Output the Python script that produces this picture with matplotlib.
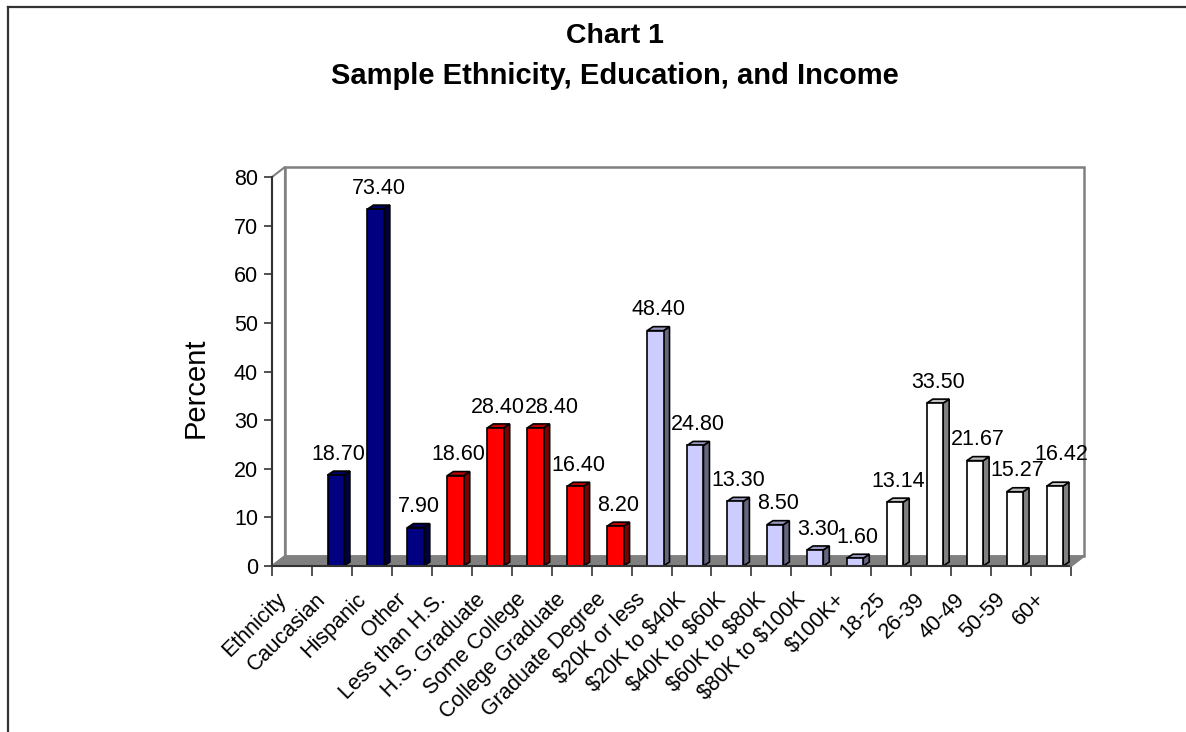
import matplotlib
matplotlib.use("Agg")
import matplotlib.pyplot as plt
from matplotlib.patches import Polygon, Rectangle
from matplotlib.lines import Line2D
from matplotlib.transforms import ScaledTranslation

plt.rcParams['font.family'] = ['Liberation Sans', 'DejaVu Sans']

# data
categories = ['Ethnicity', 'Caucasian', 'Hispanic', 'Other', 'Less than H.S.',
              'H.S. Graduate', 'Some College', 'College Graduate', 'Graduate Degree',
              '\\$20K or less', '\\$20K to \\$40K', '\\$40K to \\$60K', '\\$60K to \\$80K',
              '\\$80K to \\$100K', '\\$100K+', '18-25', '26-39', '40-49', '50-59', '60+']
values = [None, 18.70, 73.40, 7.90, 18.60, 28.40, 28.40, 16.40, 8.20,
          48.40, 24.80, 13.30, 8.50, 3.30, 1.60, 13.14, 33.50, 21.67, 15.27, 16.42]
value_labels = ['', '18.70', '73.40', '7.90', '18.60', '28.40', '28.40', '16.40', '8.20',
                '48.40', '24.80', '13.30', '8.50', '3.30', '1.60',
                '13.14', '33.50', '21.67', '15.27', '16.42']
groups = ['eth'] * 4 + ['edu'] * 5 + ['inc'] * 6 + ['age'] * 5
yticks = [0, 10, 20, 30, 40, 50, 60, 70, 80]

# front / side / top colours per group
colors = {
    'eth': ('#000080', '#000040', '#000060'),
    'edu': ('#FF0000', '#800000', '#C00000'),
    'inc': ('#CCCCFF', '#666680', '#9999C0'),
    'age': ('#FFFFFF', '#808080', '#C0C0C0'),
}
# Excel pushed a couple of value labels aside to avoid collisions (points)
label_nudge = {6: (9.5, 0), 19: (3, 8)}

W, H = 1186, 732
fig = plt.figure(figsize=(W / 100, H / 100), dpi=100)
ax = fig.add_axes([272 / W, 166 / H, 799 / W, 389 / H])
ax.set_xlim(0, 20)
ax.set_ylim(0, 80)
for s in ax.spines.values():
    s.set_visible(False)

# 3d depth of the walls and of the bars, in data units
ddx, ddy = 0.325, 2.06
bdx, bdy = 0.15, 0.82
n = len(categories)

# back wall, left wall, floor
ax.add_patch(Rectangle((ddx, ddy), n, 80, facecolor='white', edgecolor='#808080',
                       lw=1.8, clip_on=False, zorder=1))
ax.add_patch(Polygon([(0, 0), (ddx, ddy), (ddx, 80 + ddy), (0, 80)], closed=True,
                     facecolor='white', edgecolor='#808080', lw=1.5, clip_on=False, zorder=1))
ax.add_patch(Polygon([(0, 0), (n, 0), (n + ddx, ddy), (ddx, ddy)], closed=True,
                     facecolor='#808080', edgecolor='#808080', lw=1, clip_on=False, zorder=2))

# bars
bw = 0.41
for i, v in enumerate(values):
    if v is None:
        continue
    front, side, top = colors[groups[i]]
    x0 = i + 0.39
    ax.bar(x0, v, width=bw, align='edge', color=front, edgecolor='black', lw=1.2,
           zorder=4, clip_on=False)
    ax.add_patch(Polygon([(x0 + bw, 0), (x0 + bw + bdx, bdy), (x0 + bw + bdx, v + bdy),
                          (x0 + bw, v)], closed=True, facecolor=side, edgecolor='black',
                         lw=1.2, zorder=3, clip_on=False))
    ax.add_patch(Polygon([(x0, v), (x0 + bw, v), (x0 + bw + bdx, v + bdy),
                          (x0 + bdx, v + bdy)], closed=True, facecolor=top,
                         edgecolor='black', lw=1.2, zorder=3, clip_on=False))
    nx, ny = label_nudge.get(i, (0, 0))
    ax.annotate(value_labels[i], (x0 + bw / 2, v), xytext=(2 + nx, 15 + ny),
                textcoords='offset points', ha='center', va='center', fontsize=15.5,
                zorder=6, annotation_clip=False)

# front axis lines
ax.plot([0, 0], [0, 80], color='#333333', lw=1.5, clip_on=False, zorder=5)
ax.plot([0, n], [0, 0], color='#333333', lw=1.5, clip_on=False, zorder=5)
ax.plot([n, n + ddx], [0, ddy], color='#808080', lw=1.5, clip_on=False, zorder=5)

ax.set_yticks(yticks)
ax.set_yticklabels([str(t) for t in yticks])
ax.tick_params(axis='y', length=6, width=1.2, color='#333333', labelsize=15.5, pad=4)

ax.set_xticks(range(n + 1))
ax.set_xticklabels([])
ax.tick_params(axis='x', which='major', length=7, width=1.2, color='#333333')
ax.set_xticks([i + 0.5 for i in range(n)], labels=categories, minor=True)
ax.tick_params(axis='x', which='minor', length=0, pad=22, labelsize=15.5)
shift = ScaledTranslation(-9 / 100, 0, fig.dpi_scale_trans)
for lab in ax.get_xticklabels(minor=True):
    lab.set_rotation(45)
    lab.set_ha('right')
    lab.set_va('center')
    lab.set_rotation_mode('anchor')
    lab.set_transform(lab.get_transform() + shift)

fig.text(196 / W, 1 - 388 / H, 'Percent', rotation=90, ha='center', va='center', fontsize=21)
fig.text(615 / W, 1 - 36 / H, 'Chart 1', ha='center', va='center', fontsize=20.5,
         fontweight='bold')
fig.text(615 / W, 1 - 76 / H, 'Sample Ethnicity, Education, and Income', ha='center',
         va='center', fontsize=21, fontweight='bold')

# outer frame (only top and left edges are in view)
fig.add_artist(Line2D([8 / W, 8 / W], [0, 1 - 7 / H], color='#333333', lw=1.6))
fig.add_artist(Line2D([8 / W, 1], [1 - 7 / H, 1 - 7 / H], color='#333333', lw=1.6))

fig.savefig('out.png', dpi=100)
